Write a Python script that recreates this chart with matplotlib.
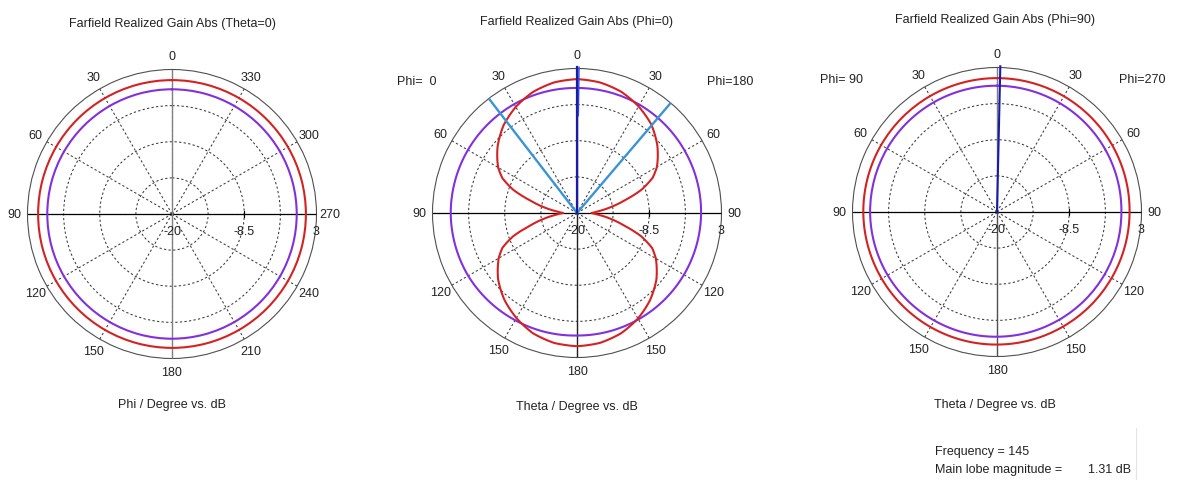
import numpy as np
import matplotlib
matplotlib.use("Agg")
import matplotlib.pyplot as plt
from matplotlib.lines import Line2D

plt.rcParams['font.family'] = ['Liberation Sans', 'DejaVu Sans']

W, H, DPI = 1182, 481, 100

# ---- radial scale (dB) ----
R_MIN, R_MAX = -20.0, 3.0
RADIAL_GRID = [-14.25, -8.5, -2.75]
RADIAL_TICK_VALUES = [-20.0, -8.5, 3.0]
RADIAL_TICK_LABELS = ['-20', '-8.5', '3']

# ---- cut 1: Theta = 0, phi sweep ----
phi_deg = [0, 30, 60, 90, 120, 150, 180, 210, 240, 270, 300, 330, 360]
theta0_red = [1.31, 1.31, 1.31, 1.31, 1.31, 1.31, 1.31, 1.31, 1.31, 1.31, 1.31, 1.31, 1.31]
theta0_purple = [-0.15, -0.15, -0.15, -0.15, -0.15, -0.15, -0.15, -0.15, -0.15, -0.15, -0.15, -0.15, -0.15]
phi_labels = ['0', '30', '60', '90', '120', '150', '180', '210', '240', '270', '300', '330']

# ---- cut 2: Phi = 0 / 180, theta sweep ----
theta_deg = [0, 10, 20, 30, 40, 50, 55, 60, 65, 70, 75, 80, 85, 90,
             95, 100, 105, 110, 115, 120, 125, 130, 140, 150, 160, 170, 180]
phi0_red = [1.31, 1.1, 0.5, -0.5, -1.8, -3.5, -4.5, -5.5, -6.9, -9.2, -12.3, -14.6, -16.6, -17.8,
            -16.6, -14.6, -12.3, -9.2, -6.9, -5.6, -4.6, -3.6, -2.0, -0.7, 0.4, 1.0, 1.2]
phi180_red = [1.31, 1.1, 0.55, -0.4, -1.6, -3.3, -4.3, -5.3, -6.7, -9.0, -12.1, -14.5, -16.5, -17.7,
              -16.5, -14.5, -12.2, -9.1, -6.8, -5.5, -4.5, -3.5, -1.9, -0.6, 0.4, 1.0, 1.2]
theta_coarse = [0, 30, 60, 90, 120, 150, 180]
phi0_purple = [-0.1, 0.0, 0.05, 0.1, 0.0, -0.3, -0.5]
phi180_purple = [-0.1, -0.1, -0.2, -0.25, -0.35, -0.45, -0.5]
phi0_main_lobe = 0.0
phi0_beam_left = 37.6
phi0_beam_right = 40.4

# ---- cut 3: Phi = 90 / 270, theta sweep ----
phi90_red = [1.31, 1.3, 1.3, 1.28, 1.2, 1.15, 1.1]
phi270_red = [1.31, 1.28, 1.2, 1.1, 1.05, 1.05, 1.1]
phi90_purple = [0.1, 0.15, 0.2, 0.2, 0.1, -0.05, -0.15]
phi270_purple = [0.1, 0.0, -0.1, -0.2, -0.2, -0.2, -0.15]
phi90_main_lobe = 1.3   # degrees toward the Phi=270 side

side_labels = ['0', '30', '60', '90', '120', '150', '180', '150', '120', '90', '60', '30']

RED = '#d42222'
PURPLE = '#8130de'
CYAN = '#3a94d4'
NAVY = '#1a1aa8'
GRID = '#3a3a3a'

fig = plt.figure(figsize=(W / DPI, H / DPI), dpi=DPI)
fig.patch.set_facecolor('white')


def px_axes(cx, cy, r):
    return fig.add_axes([(cx - r) / W, 1 - (cy + r) / H, 2 * r / W, 2 * r / H],
                        projection='polar')


def curve(ax, ang, val, **kw):
    """Polar trace whose segments follow arcs in (theta, r) space."""
    line, = ax.plot(ang, val, **kw)
    line.get_path()._interpolation_steps = 40
    return line


def style_polar(ax, labels, vert_color):
    ax.set_theta_zero_location('N')
    ax.set_theta_direction(1)
    ax.set_ylim(R_MIN, R_MAX)
    ax.set_thetagrids(np.arange(0, 360, 30), labels=[''] * 12)
    ax.set_rgrids(RADIAL_GRID, labels=[''] * len(RADIAL_GRID))
    ax.grid(True, color=GRID, linestyle=(0, (2.2, 2.2)), linewidth=0.75)
    ax.spines['polar'].set_color('#505050')
    ax.spines['polar'].set_linewidth(0.8)
    ax.set_facecolor('white')
    ax.tick_params(length=0)
    # solid axis cross
    ax.plot([np.pi / 2, np.pi / 2], [R_MIN, R_MAX], color='black', lw=0.9, zorder=3)
    ax.plot([1.5 * np.pi, 1.5 * np.pi], [R_MIN, R_MAX], color='black', lw=0.9, zorder=3)
    ax.plot([0, 0], [R_MIN, R_MAX], color=vert_color[0], lw=1.0, zorder=3)
    ax.plot([np.pi, np.pi], [R_MIN, R_MAX], color=vert_color[1], lw=1.0, zorder=3)
    # small tick on the dB axis
    ax.plot([1.5 * np.pi], [-8.5], marker='|', ms=4.5, mew=0.9, color='black', zorder=3)
    # angle labels
    for a, s in zip(np.arange(0, 360, 30), labels):
        ax.text(np.deg2rad(a), 5.1, s, ha='center', va='center', fontsize=9,
                color='#222222', clip_on=False)
    # dB labels below the horizontal axis
    for v, s in zip(RADIAL_TICK_VALUES, RADIAL_TICK_LABELS):
        ax.annotate(s, xy=(1.5 * np.pi, v), xytext=(0, -12), textcoords='offset points',
                    ha='center', va='center', fontsize=9, color='#222222',
                    annotation_clip=False)


def side_angles(theta_list, side):
    t = np.asarray(theta_list, dtype=float)
    return np.deg2rad(t if side == 'left' else 360 - t)


def closed_cut(theta_list, left_vals, right_vals):
    ang = np.concatenate([side_angles(theta_list, 'left'),
                          side_angles(theta_list, 'right')[::-1]])
    val = np.concatenate([left_vals, right_vals[::-1]])
    return ang, val


# ---------------- Chart 1 ----------------
ax1 = px_axes(172, 215, 144.5)
style_polar(ax1, phi_labels, ('#808080', '#808080'))
curve(ax1, np.deg2rad(phi_deg), theta0_purple, color=PURPLE, lw=1.5, zorder=4)
curve(ax1, np.deg2rad(phi_deg), theta0_red, color=RED, lw=1.5, zorder=4)

# ---------------- Chart 2 ----------------
ax2 = px_axes(577, 214, 144.5)
style_polar(ax2, side_labels, ('#202020', '#202020'))
a, v = closed_cut(theta_coarse, phi0_purple, phi180_purple)
curve(ax2, a, v, color=PURPLE, lw=1.5, zorder=4)
a, v = closed_cut(theta_deg, phi0_red, phi180_red)
curve(ax2, a, v, color=RED, lw=1.5, zorder=4)
for t in (np.deg2rad(phi0_beam_left), np.deg2rad(360 - phi0_beam_right)):
    ax2.plot([t, t], [R_MIN, R_MAX], color=CYAN, lw=1.7, zorder=5)
ml = np.deg2rad(phi0_main_lobe)
ax2.plot([ml, ml], [R_MIN, R_MAX + 0.2], color=NAVY, lw=1.6, zorder=6, clip_on=False)
ax2.plot([np.deg2rad(359.2), np.deg2rad(359.2)], [-4.5, R_MAX + 0.2], color='#2a44d8',
         lw=1.0, zorder=6, clip_on=False)

# ---------------- Chart 3 ----------------
ax3 = px_axes(997, 213, 144.5)
style_polar(ax3, side_labels, ('#808080', '#505050'))
a, v = closed_cut(theta_coarse, phi90_purple, phi270_purple)
curve(ax3, a, v, color=PURPLE, lw=1.5, zorder=4)
a, v = closed_cut(theta_coarse, phi90_red, phi270_red)
curve(ax3, a, v, color=RED, lw=1.5, zorder=4)
ml3 = np.deg2rad(360 - phi90_main_lobe)
ax3.plot([ml3, ml3], [R_MIN, R_MAX + 0.2], color=NAVY, lw=1.5, zorder=6, clip_on=False)


# ---------------- texts ----------------
def ftext(x, y, s, **kw):
    kw.setdefault('fontsize', 9)
    kw.setdefault('color', '#222222')
    fig.text(x / W, 1 - y / H, s, **kw)


ftext(172, 24, 'Farfield Realized Gain Abs (Theta=0)', ha='center', va='center')
ftext(577, 22, 'Farfield Realized Gain Abs (Phi=0)', ha='center', va='center')
ftext(995, 20, 'Farfield Realized Gain Abs (Phi=90)', ha='center', va='center')

ftext(172, 405, 'Phi / Degree vs. dB', ha='center', va='center')
ftext(577, 407, 'Theta / Degree vs. dB', ha='center', va='center')
ftext(995, 405, 'Theta / Degree vs. dB', ha='center', va='center')

ftext(397, 82, 'Phi=  0', ha='left', va='center')
ftext(707, 82, 'Phi=180', ha='left', va='center')
ftext(820, 80, 'Phi= 90', ha='left', va='center')
ftext(1119, 80, 'Phi=270', ha='left', va='center')

ftext(935, 452, 'Frequency = 145', ha='left', va='center')
ftext(935, 470, 'Main lobe magnitude =', ha='left', va='center')
ftext(1088, 470, '1.31 dB', ha='left', va='center')

fig.add_artist(Line2D([1136 / W, 1136 / W], [0, 1 - 429 / H], color='#e4e4e4', lw=0.8))

fig.savefig('out.png', dpi=DPI, facecolor='white')
